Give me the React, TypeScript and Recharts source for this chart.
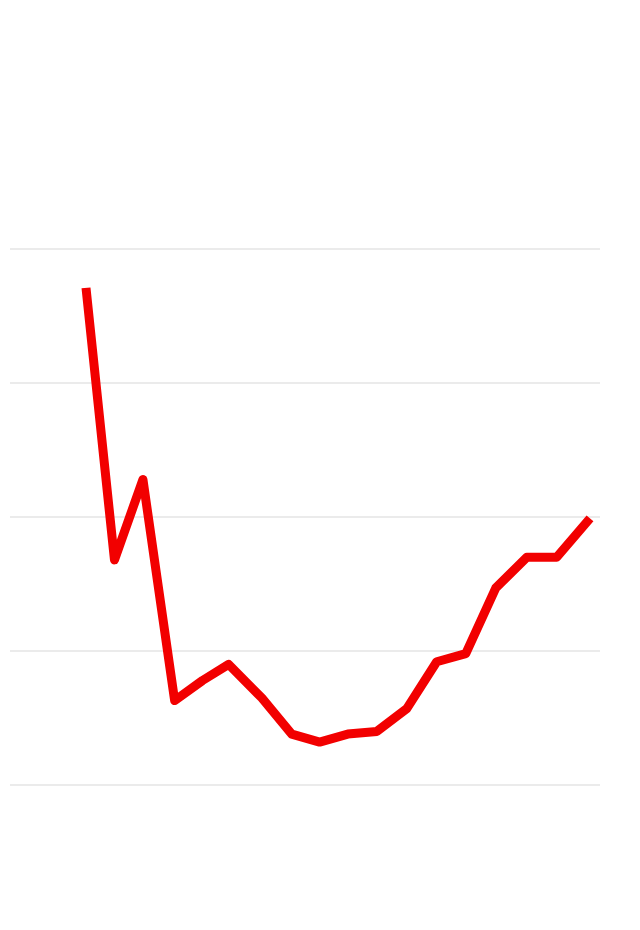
import { CartesianGrid, Line, LineChart, XAxis, YAxis } from "recharts"

// readings are not evenly spaced in time
const periods = [0, 0.96, 1.92, 2.99, 3.93, 4.81, 5.93, 6.94, 7.88, 8.83, 9.81, 10.82, 11.83, 12.81, 13.82, 14.87, 15.88, 17]
const values = [3.71, 1.68, 2.28, 0.63, 0.78, 0.9, 0.65, 0.38, 0.32, 0.38, 0.4, 0.57, 0.92, 0.98, 1.47, 1.7, 1.7, 1.99]
const yTicks = [0, 1, 2, 3, 4]

const data = periods.map((p, i) => ({ period: p, value: values[i] }))

const App = () => {
    return (
        <div style={{ width: 624, height: 914 }}>
            <LineChart
                width={624}
                height={914}
                data={data}
                margin={{ top: 241, right: 32, left: 2, bottom: 137 }}
            >
                <CartesianGrid vertical={false} stroke="#ebebeb" strokeWidth={2} />
                <XAxis dataKey="period" type="number" domain={[0, 17]} padding={{ left: 76, right: 10 }} hide />
                <YAxis domain={[0, 4]} ticks={yTicks} hide />
                <Line
                    type="linear"
                    dataKey="value"
                    stroke="#f20000"
                    strokeWidth={9}
                    strokeLinejoin="round"
                    dot={false}
                    activeDot={false}
                    isAnimationActive={false}
                />
            </LineChart>
        </div>
    )
}

export default App
